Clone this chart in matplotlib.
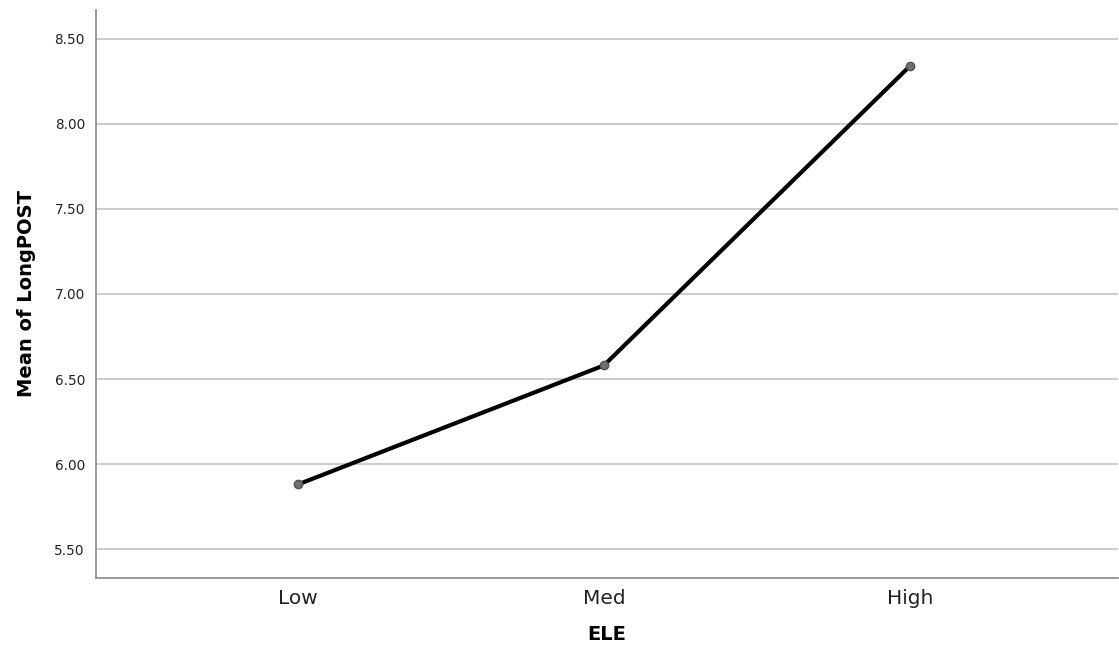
import matplotlib
matplotlib.use("Agg")
import matplotlib.pyplot as plt

categories = ["Low", "Med", "High"]
means = [5.88, 6.58, 8.34]
yticks = [5.50, 6.00, 6.50, 7.00, 7.50, 8.00, 8.50]

plt.rcParams['font.family'] = ['DejaVu Sans']

fig = plt.figure(figsize=(11.19, 6.55), dpi=100)
ax = fig.add_axes([0.0858, 0.1176, 0.9132, 0.8671])

x = list(range(len(categories)))
ax.plot(x, means, color='black', lw=3, zorder=3)
ax.plot(x, means, 'o', ms=6, color='#707070', mec='#505050', zorder=4)

ax.set_xlim(-0.66, 2.68)
ax.set_ylim(5.33, 8.67)
ax.set_yticks(yticks)
ax.set_yticklabels([f"{v:.2f}" for v in yticks], fontsize=9.8, color='#222222')
ax.set_xticks(x)
ax.set_xticklabels(categories, fontsize=14.5, color='#222222')
ax.tick_params(axis='both', length=0)
ax.tick_params(axis='y', pad=8)
ax.tick_params(axis='x', pad=8)

ax.grid(axis='y', color='#c4c4c4', lw=1.2)
ax.set_axisbelow(True)
for s in ['top', 'right']:
    ax.spines[s].set_visible(False)
for s in ['left', 'bottom']:
    ax.spines[s].set_color('#8a8a8a')
    ax.spines[s].set_linewidth(1.2)

ax.set_xlabel("ELE", fontsize=14, fontweight='bold', labelpad=12)
ax.set_ylabel("Mean of LongPOST", fontsize=14, fontweight='bold', labelpad=13)

fig.savefig("out.png", dpi=100, facecolor='white')
